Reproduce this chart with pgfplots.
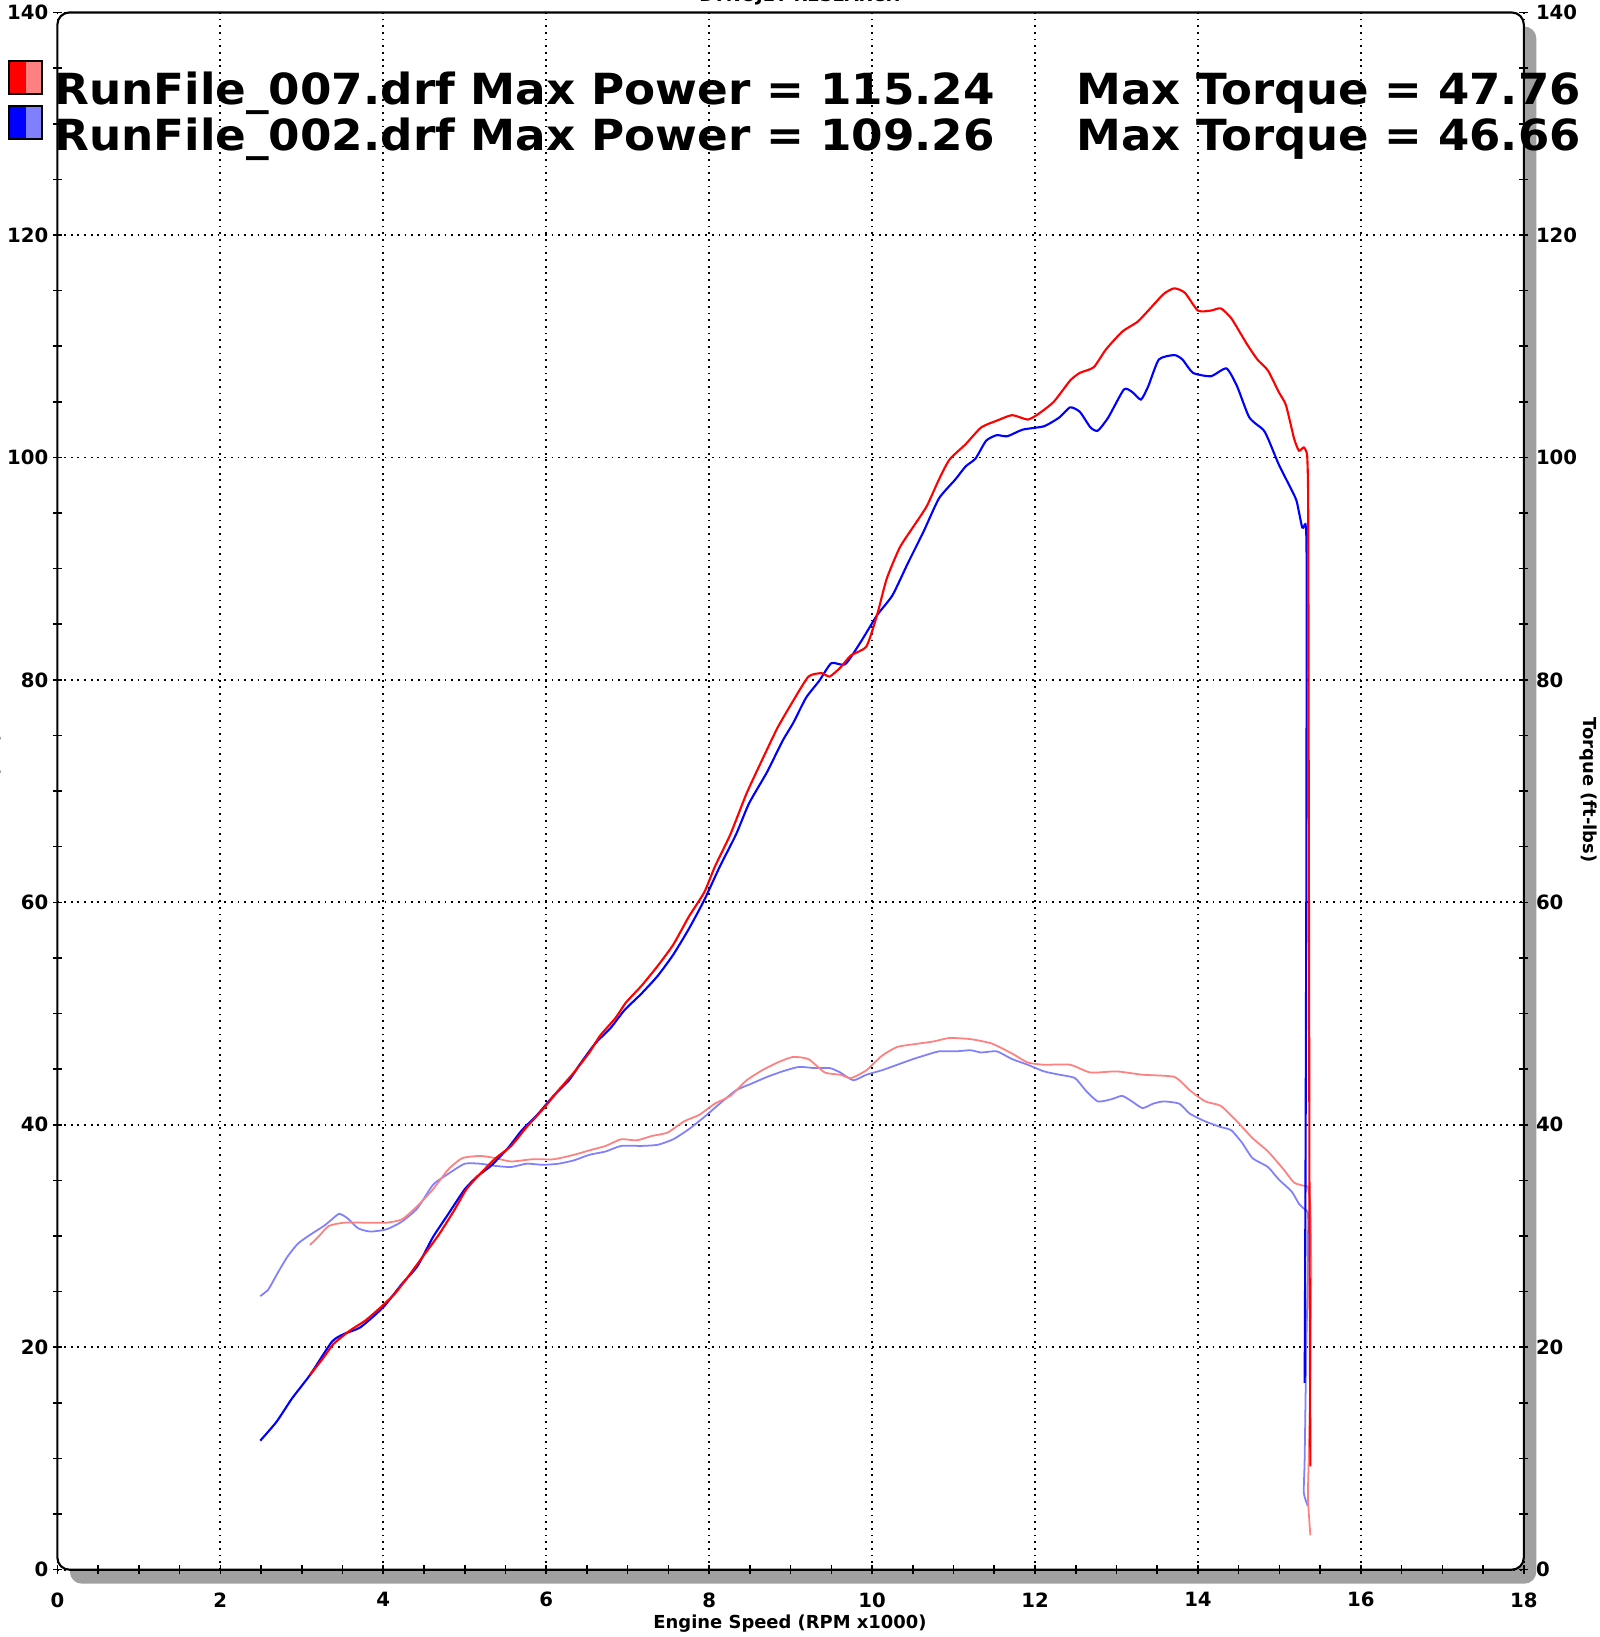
\documentclass[border=0pt]{standalone}
\usepackage{pgfplots}
\pgfplotsset{compat=1.18}
\usepackage{fontspec}
\setmainfont{DejaVu Sans}
\usepackage{graphicx}
\definecolor{pr}{RGB}{255,0,0}
\definecolor{pb}{RGB}{0,0,255}
\definecolor{tr}{RGB}{255,128,128}
\definecolor{tb}{RGB}{128,128,255}
\definecolor{shad}{RGB}{160,160,160}
\newcommand\tickfont{\bfseries\fontsize{5.6}{6.5}\selectfont}
\newcommand\labfont{\bfseries\fontsize{5.1}{6}\selectfont}
\newcommand\legfont{\bfseries\fontsize{12.2}{14}\selectfont}
\begin{document}
\begin{tikzpicture}
\useasboundingbox (0,0) rectangle (159.9mm,163.7mm);
\fill[shad, rounded corners=1.2mm] (6.99mm,5.33mm) rectangle (153.63mm,161.05mm);
\fill[white, rounded corners=1.2mm] (5.74mm,6.73mm) rectangle (152.38mm,162.45mm);
\begin{axis}[
  at={(5.74mm,6.73mm)}, anchor=south west,
  scale only axis, width=146.64mm, height=155.72mm,
  xmin=0, xmax=18, ymin=0, ymax=140,
  xtick={0,2,...,18}, ytick={0,20,...,140},
  minor x tick num=3, minor y tick num=3,
  xtick pos=left, ytick pos=both,
  tick align=center,
  major tick length=0.9mm, minor tick length=0.9mm,
  tick style={black, line width=0.45pt},
  axis line style={draw=none},
  grid=major,
  major grid style={black, line width=0.5pt, dash pattern=on 0.5pt off 1.4pt},
  /pgf/number format/assume math mode=true,
  tick label style={font=\tickfont, inner sep=0pt},
  xticklabel style={yshift=-1.75mm},
  yticklabel style={xshift=-0.4mm},
]
\addplot[tb, line width=0.5pt, smooth, tension=0.35] coordinates {
(2.49,24.6)(2.59,25.2)(2.69,26.5)(2.82,28.1)(2.95,29.3)(3.10,30.1)(3.27,30.9)(3.37,31.5)(3.46,32.0)(3.56,31.6)(3.69,30.7)(3.84,30.4)(4.04,30.6)(4.23,31.3)(4.42,32.5)(4.61,34.6)(4.80,35.6)(5.00,36.5)(5.19,36.5)(5.38,36.3)(5.57,36.2)(5.76,36.5)(5.96,36.4)(6.15,36.5)(6.34,36.8)(6.53,37.3)(6.73,37.6)(6.92,38.1)(7.17,38.1)(7.37,38.2)(7.56,38.7)(7.75,39.6)(7.94,40.7)(8.13,41.9)(8.33,43.1)(8.52,43.7)(8.71,44.3)(8.90,44.8)(9.10,45.2)(9.29,45.1)(9.48,45.1)(9.61,44.7)(9.77,44.0)(9.93,44.5)(10.12,44.9)(10.31,45.4)(10.50,45.9)(10.63,46.2)(10.82,46.6)(11.02,46.6)(11.21,46.7)(11.34,46.5)(11.53,46.6)(11.72,45.9)(11.91,45.4)(12.11,44.8)(12.30,44.5)(12.49,44.2)(12.62,43.1)(12.77,42.1)(12.94,42.3)(13.07,42.6)(13.19,42.1)(13.32,41.5)(13.45,41.9)(13.58,42.1)(13.77,41.9)(13.90,41.0)(14.09,40.3)(14.28,39.8)(14.41,39.5)(14.54,38.4)(14.67,37.0)(14.86,36.2)(14.99,35.1)(15.15,34.0)(15.24,32.9)(15.31,32.4)(15.35,32.1)(15.352,30.0)(15.345,25.0)(15.33,20.0)(15.31,10.0)(15.30,6.9)(15.35,5.7)
};
\addplot[tr, line width=0.5pt, smooth, tension=0.35] coordinates {
(3.10,29.2)(3.20,29.9)(3.33,30.9)(3.52,31.2)(3.78,31.2)(4.04,31.2)(4.23,31.5)(4.42,32.7)(4.61,34.2)(4.80,36.0)(4.97,37.0)(5.19,37.2)(5.38,37.0)(5.57,36.7)(5.83,36.9)(6.09,36.9)(6.34,37.3)(6.53,37.7)(6.73,38.1)(6.92,38.7)(7.11,38.6)(7.30,39.0)(7.49,39.3)(7.69,40.3)(7.88,40.9)(8.07,41.9)(8.26,42.6)(8.46,44.0)(8.65,44.9)(8.84,45.6)(9.03,46.1)(9.22,45.9)(9.42,44.7)(9.61,44.5)(9.74,44.2)(9.93,44.9)(10.12,46.2)(10.31,47.0)(10.57,47.3)(10.76,47.5)(10.95,47.8)(11.21,47.7)(11.47,47.3)(11.72,46.4)(11.91,45.6)(12.11,45.4)(12.43,45.4)(12.68,44.7)(13.00,44.8)(13.32,44.5)(13.71,44.3)(13.90,43.1)(14.09,42.1)(14.28,41.7)(14.48,40.3)(14.67,38.8)(14.86,37.6)(15.05,36.0)(15.18,34.8)(15.31,34.5)(15.35,34.4)(15.38,32.6)(15.39,27.0)(15.38,18.0)(15.36,10.0)(15.35,6.5)(15.38,3.1)
};
\addplot[pb, line width=0.6pt, smooth, tension=0.35] coordinates {
(2.49,11.6)(2.69,13.3)(2.88,15.4)(3.10,17.5)(3.37,20.5)(3.52,21.2)(3.72,21.8)(4.00,23.6)(4.23,25.7)(4.42,27.3)(4.61,29.9)(4.80,32.0)(5.00,34.2)(5.16,35.4)(5.32,36.3)(5.53,37.9)(5.70,39.5)(5.89,40.9)(6.09,42.6)(6.28,44.0)(6.41,45.4)(6.60,47.3)(6.79,48.7)(6.96,50.3)(7.17,51.8)(7.37,53.4)(7.56,55.3)(7.75,57.6)(7.94,60.2)(8.13,63.2)(8.33,66.1)(8.49,68.9)(8.71,71.7)(8.90,74.5)(9.03,76.1)(9.19,78.4)(9.35,79.9)(9.50,81.5)(9.67,81.4)(9.86,83.4)(10.06,85.8)(10.25,87.6)(10.44,90.5)(10.63,93.3)(10.82,96.3)(11.02,98.0)(11.15,99.2)(11.27,99.9)(11.40,101.5)(11.53,102.0)(11.66,101.9)(11.85,102.5)(12.11,102.8)(12.30,103.6)(12.43,104.5)(12.55,104.1)(12.68,102.7)(12.77,102.4)(12.90,103.6)(13.09,106.1)(13.19,105.9)(13.30,105.2)(13.39,106.4)(13.52,108.8)(13.71,109.2)(13.81,108.8)(13.94,107.6)(14.16,107.3)(14.35,108.0)(14.48,106.4)(14.63,103.6)(14.80,102.5)(14.86,101.7)(14.99,99.4)(15.12,97.5)(15.21,96.1)(15.28,93.7)(15.32,94.0)(15.332,92.5)(15.334,88.0)(15.333,75.0)(15.33,60.0)(15.32,35.0)(15.31,16.8)
};
\addplot[pr, line width=0.6pt, smooth, tension=0.35] coordinates {
(3.10,17.5)(3.27,19.1)(3.39,20.3)(3.59,21.5)(3.78,22.4)(3.97,23.6)(4.14,24.8)(4.29,26.2)(4.48,28.1)(4.68,30.1)(4.87,32.3)(5.02,34.2)(5.19,35.6)(5.38,37.0)(5.57,38.1)(5.76,39.8)(5.96,41.4)(6.15,43.1)(6.34,44.7)(6.53,46.5)(6.66,48.0)(6.85,49.6)(6.98,51.0)(7.17,52.5)(7.37,54.3)(7.56,56.2)(7.75,58.7)(7.94,60.9)(8.07,63.2)(8.26,66.1)(8.46,69.8)(8.65,72.8)(8.84,75.7)(9.03,78.1)(9.22,80.3)(9.38,80.6)(9.48,80.3)(9.61,81.1)(9.74,82.2)(9.93,83.0)(10.06,85.8)(10.18,89.1)(10.34,91.9)(10.50,93.7)(10.67,95.6)(10.82,98.0)(10.95,99.8)(11.15,101.2)(11.34,102.7)(11.53,103.3)(11.72,103.8)(11.91,103.4)(12.04,103.9)(12.23,105.0)(12.43,106.9)(12.55,107.6)(12.72,108.1)(12.87,109.7)(13.07,111.3)(13.26,112.2)(13.39,113.2)(13.58,114.7)(13.71,115.2)(13.84,114.8)(14.00,113.2)(14.16,113.2)(14.28,113.4)(14.41,112.5)(14.60,110.2)(14.73,108.8)(14.86,107.8)(14.99,105.9)(15.08,104.7)(15.18,101.7)(15.24,100.6)(15.30,100.9)(15.34,100.2)(15.352,97.0)(15.356,88.0)(15.36,70.0)(15.365,50.0)(15.37,30.0)(15.38,9.3)
};
\end{axis}
\begin{axis}[
  at={(5.74mm,6.73mm)}, anchor=south west,
  scale only axis, width=146.64mm, height=155.72mm,
  xmin=0, xmax=18, ymin=0, ymax=140,
  hide x axis,
  ytick={0,20,...,140}, yticklabel pos=right,
  major tick length=0pt, ytick style={draw=none},
  axis line style={draw=none},
  /pgf/number format/assume math mode=true,
  tick label style={font=\tickfont, inner sep=0pt},
  yticklabel style={xshift=1.15mm},
]
\end{axis}
\draw[black, line width=0.6pt, rounded corners=1.2mm] (5.74mm,6.73mm) rectangle (152.38mm,162.45mm);
% titles and labels (partly outside the page, as in the reference)
\node[anchor=base, inner sep=0pt, font=\labfont] at (80.0mm,163.5mm) {DYNOJET RESEARCH};
\node[anchor=base, inner sep=0pt, font=\labfont] at (79.0mm,0.87mm) {Engine Speed (RPM x1000)};
\node[anchor=center, inner sep=0pt, font=\labfont, rotate=-90] at (158.85mm,84.7mm) {Torque (ft-lbs)};
\node[anchor=base, inner sep=0pt, font=\labfont, rotate=90] at (-0.15mm,84.7mm) {Power (HP)};
% legend swatches
\fill[pr] (0.9mm,154.3mm) rectangle (2.55mm,157.6mm);
\fill[tr] (2.55mm,154.3mm) rectangle (4.2mm,157.6mm);
\draw[line width=0.5pt] (0.9mm,154.3mm) rectangle (4.2mm,157.6mm);
\fill[pb] (0.9mm,149.8mm) rectangle (2.55mm,153.1mm);
\fill[tb] (2.55mm,149.8mm) rectangle (4.2mm,153.1mm);
\draw[line width=0.5pt] (0.9mm,149.8mm) rectangle (4.2mm,153.1mm);
% legend texts
\node[anchor=base west, inner sep=0pt] at (5.35mm,153.2mm) {\resizebox{94.05mm}{\height}{\legfont RunFile\_007.drf Max Power = 115.24}};
\node[anchor=base west, inner sep=0pt] at (107.6mm,153.2mm) {\resizebox{50.4mm}{\height}{\legfont Max Torque = 47.76}};
\node[anchor=base west, inner sep=0pt] at (5.35mm,148.63mm) {\resizebox{94.05mm}{\height}{\legfont RunFile\_002.drf Max Power = 109.26}};
\node[anchor=base west, inner sep=0pt] at (107.6mm,148.63mm) {\resizebox{50.4mm}{\height}{\legfont Max Torque = 46.66}};
\end{tikzpicture}
\end{document}
